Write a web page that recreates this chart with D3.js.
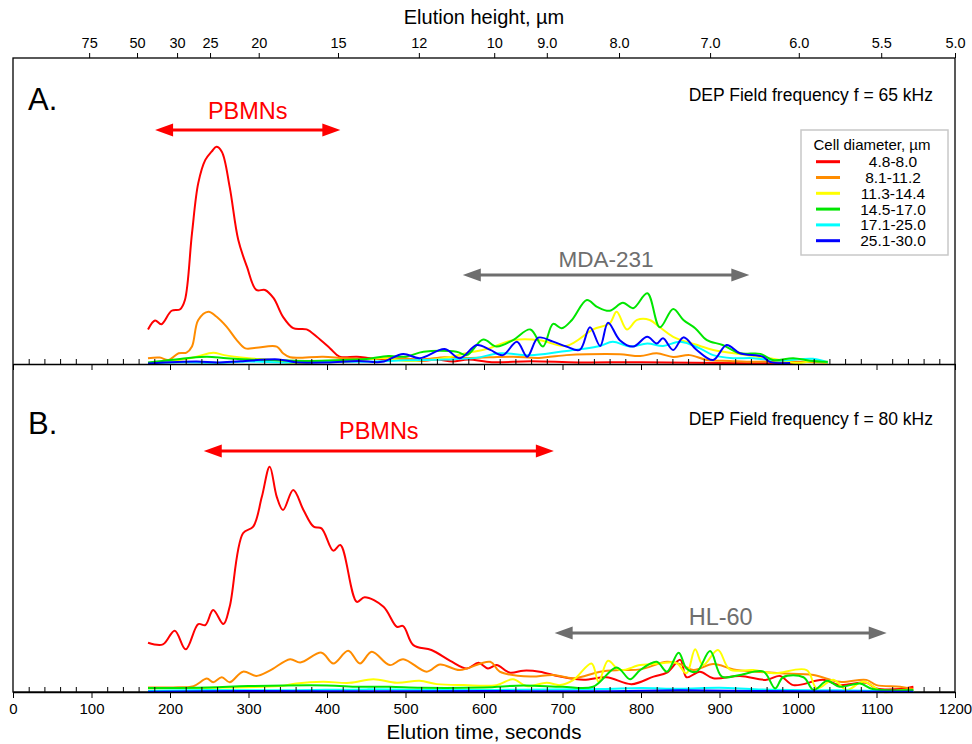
<!DOCTYPE html>
<html>
<head>
<meta charset="utf-8">
<script src="https://cdn.jsdelivr.net/npm/d3@7"></script>
<style>
  body { margin: 0; background: #fff; }
  svg { font-family: "Liberation Sans", Arial, sans-serif; }
</style>
</head>
<body>
<div id="chart"></div>
<script>
// Elution time (s) vs relative cell count (% of panel height)
const aRed = [[172,11.3],[181,14.2],[189,13.0],[202,17.4],[213,17.9],[219,20.9],[228,42.7],[236,59.1],[245,66.7],[253,69.4],[259,71.0],[266,69.4],[276,57.9],[287,40.5],[298,31.8],[310,24.2],[321,24.2],[332,21.5],[344,15.4],[357,11.7],[374,11.3],[387,8.9],[404,5.1],[416,2.4],[438,2.4],[455,1.9],[480,1.3],[500,1.8],[520,1.0],[540,1.5],[560,0.8],[580,1.5],[610,0.6],[660,0.9],[720,0.5],[800,0.6],[900,0.3],[1000,0.3]];
const aOrange = [[172,1.9],[187,2.1],[198,1.3],[211,3.5],[221,3.7],[228,5.7],[236,14.4],[249,17.1],[259,15.5],[272,12.2],[285,7.8],[296,5.1],[310,5.3],[336,5.7],[344,3.5],[353,2.2],[395,2.4],[421,1.9],[450,1.6],[480,2.0],[520,1.5],[550,2.2],[582,2.0],[608,2.2],[637,2.4],[670,2.0],[705,2.9],[731,3.2],[773,3.2],[799,2.6],[820,3.5],[841,2.3],[862,2.9],[884,1.3],[913,1.0],[935,0.7],[980,0.9],[1038,0.4]];
const aYellow = [[172,0.2],[195,0.8],[213,1.4],[234,2.4],[255,3.7],[269,2.9],[300,1.9],[330,1.3],[360,0.1],[390,0.8],[430,0.8],[470,2.0],[500,1.0],[530,1.3],[555,2.2],[578,3.6],[605,5.0],[637,7.8],[671,7.8],[705,5.9],[739,11.3],[760,13.3],[769,17.1],[782,11.3],[795,14.4],[811,14.4],[824,12.0],[841,8.9],[875,5.9],[892,4.6],[935,2.9],[977,1.3],[999,0.3],[1019,0.9],[1038,0.2]];
const aGreen = [[172,0.5],[190,1.0],[221,1.9],[247,2.4],[272,1.9],[300,1.5],[340,1.2],[380,1.0],[420,1.3],[450,1.6],[478,2.6],[500,2.4],[523,4.0],[565,4.0],[578,2.9],[599,8.0],[616,5.7],[637,7.8],[659,11.3],[675,5.7],[688,13.1],[699,11.7],[712,14.4],[731,20.9],[744,18.7],[760,17.4],[777,20.0],[790,18.2],[808,23.1],[824,12.0],[841,18.0],[854,14.4],[869,11.7],[884,7.8],[904,6.2],[926,3.5],[952,3.3],[968,1.3],[994,1.9],[1015,1.1],[1038,0.7]];
const aCyan = [[172,0.3],[220,0.6],[260,0.4],[300,0.8],[350,0.5],[400,0.9],[450,0.7],[500,1.2],[550,1.5],[590,2.0],[620,3.5],[659,2.9],[697,4.0],[722,4.8],[748,5.9],[764,7.3],[786,5.7],[808,6.7],[828,5.9],[850,7.3],[875,5.1],[892,2.9],[917,1.9],[943,1.9],[977,1.1],[1019,1.7],[1038,0.5]];
const aBlue = [[172,0.2],[234,0.8],[260,0.5],[290,0.9],[338,1.5],[360,0.6],[400,0.5],[440,1.0],[470,0.7],[497,3.3],[518,1.9],[550,4.9],[569,1.9],[591,6.2],[608,4.6],[624,2.9],[642,7.3],[655,2.4],[669,8.6],[688,7.3],[705,5.7],[722,4.6],[735,12.0],[748,5.9],[758,13.5],[773,7.8],[790,5.7],[808,8.9],[820,6.7],[828,8.4],[841,4.6],[854,8.7],[871,4.6],[892,1.3],[909,6.2],[926,3.5],[955,2.4],[964,0.7],[990,0.3]];

const bRed = [[172,15.0],[191,14.5],[206,18.7],[220,13.0],[236,20.7],[245,20.4],[255,25.0],[268,20.7],[276,26.0],[293,48.4],[306,50.4],[317,59.5],[327,68.7],[336,59.5],[344,55.5],[357,61.6],[370,55.5],[383,50.4],[393,49.9],[408,43.1],[417,44.8],[438,27.5],[448,28.9],[472,26.0],[489,19.9],[497,20.1],[510,14.3],[533,12.8],[557,9.5],[578,7.2],[593,8.9],[605,7.2],[616,8.2],[633,5.9],[650,6.5],[671,6.2],[697,4.7],[727,3.7],[756,4.5],[788,2.4],[816,4.7],[833,5.9],[850,9.8],[858,4.5],[875,6.2],[892,4.2],[926,4.9],[960,3.7],[977,4.9],[994,2.1],[1032,3.7],[1053,2.1],[1087,2.8],[1100,1.1],[1130,0.9],[1147,1.6]];
const bOrange = [[172,1.4],[204,1.4],[230,1.8],[247,4.1],[255,3.0],[266,4.5],[276,3.0],[293,6.2],[310,4.9],[327,6.5],[353,10.0],[366,9.0],[393,12.0],[408,8.7],[427,12.6],[442,8.7],[457,12.3],[480,8.2],[497,10.0],[527,6.2],[544,8.4],[569,6.7],[608,9.2],[620,6.2],[659,4.7],[688,5.2],[714,4.2],[748,6.2],[773,6.7],[799,6.9],[833,9.2],[850,8.5],[867,6.7],[892,8.5],[918,6.9],[947,6.2],[977,5.7],[1020,5.2],[1053,3.1],[1087,3.7],[1100,2.1],[1130,1.6],[1147,0.9]];
const bYellow = [[172,1.1],[276,1.4],[340,1.8],[361,2.6],[395,3.1],[429,2.8],[459,3.9],[489,2.8],[518,3.4],[540,2.4],[574,2.1],[616,2.1],[637,3.9],[654,1.8],[680,2.8],[697,2.1],[714,3.7],[737,8.7],[746,3.1],[758,9.5],[773,6.7],[799,8.2],[824,8.7],[845,8.9],[858,5.7],[869,13.0],[879,8.2],[898,12.8],[913,6.9],[943,6.7],[969,5.7],[1011,6.7],[1024,1.1],[1045,3.7],[1062,0.6],[1083,3.1],[1109,0.0],[1134,0.6],[1147,0.3]];
const bGreen = [[172,1.2],[250,1.4],[300,1.8],[400,2.0],[440,1.6],[480,1.6],[520,1.3],[600,1.4],[650,2.0],[700,1.6],[739,1.6],[769,7.5],[786,3.9],[799,6.7],[820,9.2],[833,6.2],[848,12.0],[858,7.2],[871,6.2],[888,12.5],[903,4.7],[926,5.2],[956,6.2],[971,1.1],[981,4.5],[1007,4.5],[1020,0.6],[1037,3.4],[1053,1.6],[1079,2.6],[1095,0.9],[1147,0.6]];
const bCyan = [[172,0.4],[250,0.6],[350,0.5],[450,0.8],[550,0.6],[650,0.7],[750,0.9],[800,1.2],[850,1.0],[900,1.3],[950,0.8],[1050,0.5],[1147,0.3]];
const bBlue = [[172,0.1],[300,0.3],[450,0.2],[600,0.3],[750,0.2],[850,0.5],[1000,0.2],[1147,0.1]];

const sizeLabels = ["4.8-8.0", "8.1-11.2", "11.3-14.4", "14.5-17.0", "17.1-25.0", "25.1-30.0"];
const colors = ["#ff0000", "#ff8c00", "#ffff00", "#00e600", "#00ffff", "#0000ff"];

// top axis: elution height labels and the elution time they sit at
const heightLabels = ["75", "50", "30", "25", "20", "15", "12", "10", "9.0", "8.0", "7.0", "6.0", "5.5", "5.0"];
const heightTimes = [97, 158, 209, 251, 313, 414, 517, 613, 680, 772, 888, 1001, 1106, 1200];

// cell population bands (start, end in seconds)
const bands = [
  { panel: 0, label: "PBMNs", from: 181, to: 417, color: "#ff0000" },
  { panel: 0, label: "MDA-231", from: 573, to: 938, color: "#6e6e6e" },
  { panel: 1, label: "PBMNs", from: 243, to: 689, color: "#ff0000" },
  { panel: 1, label: "HL-60", from: 690, to: 1113, color: "#6e6e6e" }
];

const frameL = 13, frameR = 955, frameT = 58, frameM = 364, frameB = 692;

const svg = d3.select("#chart")
  .append("svg")
  .attr("width", 972)
  .attr("height", 744);

const x = d3.scaleLinear().domain([0, 1200]).range([frameL, frameR]);
const yA = d3.scaleLinear().domain([0, 100]).range([frameM, frameT]);
const yB = d3.scaleLinear().domain([0, 100]).range([frameB, frameM]);

// series listed in legend order (same order as colors)
const panels = [
  { y: yA, base: frameM, series: [aRed, aOrange, aYellow, aGreen, aCyan, aBlue], letter: "A.", freq: "DEP Field frequency f = 65 kHz", letterY: 110, freqY: 101 },
  { y: yB, base: frameB, series: [bRed, bOrange, bYellow, bGreen, bCyan, bBlue], letter: "B.", freq: "DEP Field frequency f = 80 kHz", letterY: 434, freqY: 425 }
];
const drawOrder = [0, 1, 2, 4, 3, 5];

// frame
svg.append("rect")
  .attr("x", frameL).attr("y", frameT)
  .attr("width", frameR - frameL).attr("height", frameB - frameT)
  .attr("fill", "none").attr("stroke", "#000").attr("stroke-width", 1.3);

// data lines
panels.forEach(p => {
  const line = d3.line()
    .x(d => x(d[0]))
    .y(d => p.y(d[1]))
    .curve(d3.curveCatmullRom.alpha(0.5));
  drawOrder.forEach(i => {
    svg.append("path")
      .datum(p.series[i])
      .attr("fill", "none")
      .attr("stroke", colors[i])
      .attr("stroke-width", 2)
      .attr("d", line);
  });
});

// x axes on both baselines: major ticks down, minor ticks up
const majors = d3.range(0, 1201, 100);
const minors = d3.range(20, 1200, 20).filter(v => v % 100 !== 0);

panels.forEach((p, k) => {
  const major = svg.append("g")
    .attr("transform", `translate(0, ${p.base})`)
    .call(d3.axisBottom(x).tickValues(majors).tickSize(6).tickSizeOuter(0).tickPadding(5)
      .tickFormat(k === 1 ? d3.format("d") : ""));
  major.select(".domain").attr("stroke-width", 1.3);
  major.selectAll("text").attr("font-size", 15).attr("font-family", "Liberation Sans, Arial, sans-serif");

  svg.append("g")
    .attr("transform", `translate(0, ${p.base})`)
    .call(d3.axisTop(x).tickValues(minors).tickSize(5).tickFormat(""))
    .call(g => g.select(".domain").remove());
});

// top axis: elution height
const topAxis = svg.append("g")
  .attr("transform", `translate(0, ${frameT})`)
  .call(d3.axisTop(x).tickValues(heightTimes).tickSize(5).tickSizeOuter(0).tickPadding(5)
    .tickFormat((d, i) => heightLabels[i]));
topAxis.select(".domain").remove();
topAxis.selectAll("text").attr("font-size", 14.5).attr("font-family", "Liberation Sans, Arial, sans-serif");

// axis titles
svg.append("text")
  .attr("x", (frameL + frameR) / 2).attr("y", 24)
  .attr("text-anchor", "middle").attr("font-size", 20)
  .text("Elution height, \u00b5m");

svg.append("text")
  .attr("x", (frameL + frameR) / 2).attr("y", 739)
  .attr("text-anchor", "middle").attr("font-size", 20.5)
  .text("Elution time, seconds");

// panel letters and frequencies
panels.forEach(p => {
  svg.append("text")
    .attr("x", 28).attr("y", p.letterY)
    .attr("font-size", 31)
    .text(p.letter);
  svg.append("text")
    .attr("x", 933).attr("y", p.freqY)
    .attr("text-anchor", "end").attr("font-size", 17.5)
    .text(p.freq);
});

// population bands: double arrows with labels
const bandY = [[130, 119], [275, 267], [451, 439], [633, 625]];
bands.forEach((b, i) => {
  const [ay, ty] = bandY[i];
  const x0 = x(b.from), x1 = x(b.to), head = 18, hw = 6.5;
  const g = svg.append("g").attr("fill", b.color).attr("stroke", b.color);
  g.append("line")
    .attr("x1", x0 + head - 2).attr("x2", x1 - head + 2)
    .attr("y1", ay).attr("y2", ay)
    .attr("stroke-width", 3);
  g.append("path")
    .attr("stroke", "none")
    .attr("d", `M${x0},${ay} L${x0 + head},${ay - hw} L${x0 + head},${ay + hw} Z M${x1},${ay} L${x1 - head},${ay - hw} L${x1 - head},${ay + hw} Z`);
  g.append("text")
    .attr("stroke", "none")
    .attr("x", (x0 + x1) / 2).attr("y", ty)
    .attr("text-anchor", "middle")
    .attr("font-size", b.label === "MDA-231" ? 22.5 : 23.5)
    .text(b.label);
});

// legend
const legend = svg.append("g");
legend.append("rect")
  .attr("x", 801).attr("y", 130)
  .attr("width", 147).attr("height", 125)
  .attr("fill", "#fff").attr("stroke", "#c8c8c8").attr("stroke-width", 1.5);
legend.append("text")
  .attr("x", 872).attr("y", 150)
  .attr("text-anchor", "middle").attr("font-size", 15)
  .text("Cell diameter, \u00b5m");
sizeLabels.forEach((s, i) => {
  const ly = 161.7 + i * 15.8;
  legend.append("line")
    .attr("x1", 816).attr("x2", 840)
    .attr("y1", ly).attr("y2", ly)
    .attr("stroke", colors[i]).attr("stroke-width", 3);
  legend.append("text")
    .attr("x", 893).attr("y", ly + 5.5)
    .attr("text-anchor", "middle").attr("font-size", 15.5)
    .text(s);
});
</script>
</body>
</html>
